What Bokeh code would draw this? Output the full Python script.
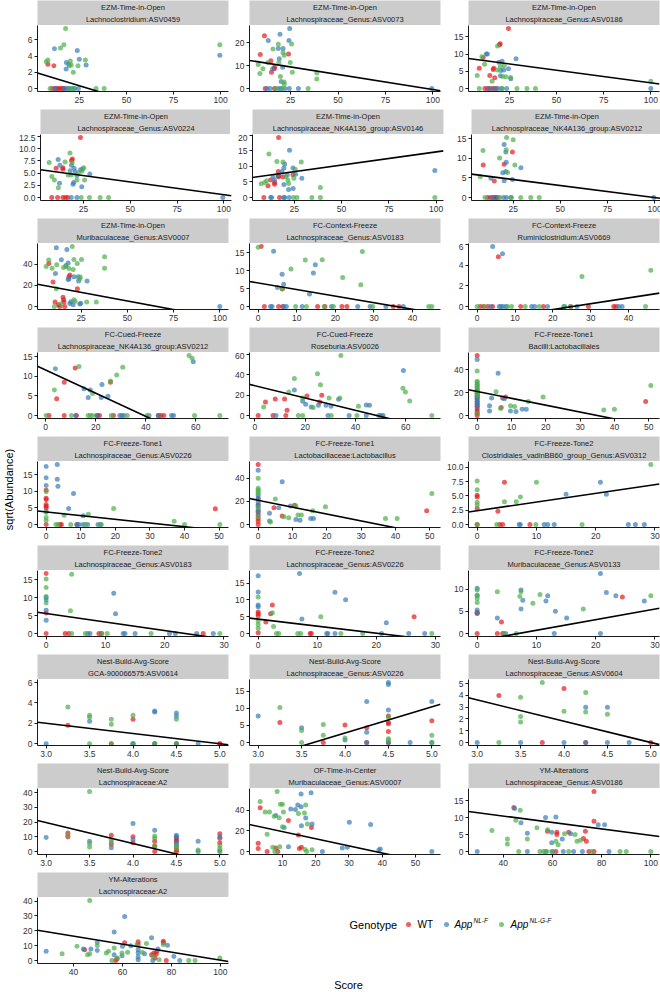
from bokeh.plotting import figure
from bokeh.layouts import row, column
from bokeh.models import Range1d, FixedTicker, NumeralTickFormatter
from bokeh.core.properties import value
from bokeh.embed import file_html
from bokeh.resources import INLINE
from math import pi

# ---------------- data ----------------
P01_WT_X = [8.3, 11.5, 10.5, 12, 13, 14, 15, 16, 17]
P01_WT_Y = [3.0, 2.8, 0, 0, 0, 0, 0, 0, 0]
P01_NLF_X = [11.8, 23.9, 25, 18.1, 19.4, 18, 28.6, 99.6, 12, 17, 18.5, 19.5, 21, 22.5, 24.5]
P01_NLF_Y = [4.9, 4.7, 3.6, 3.2, 3.0, 2.4, 2.9, 4.1, 0, 0, 0, 0, 0, 0, 0]
P01_NLGF_X = [17.7, 16.8, 15, 7.4, 8.3, 20.2, 20.7, 19.7, 21.8, 24.3, 28.2, 99.6, 9.5, 33.9, 38.2, 20, 22]
P01_NLGF_Y = [7.4, 5.4, 5.0, 3.3, 3.5, 3.4, 2.9, 2.8, 2.0, 2.8, 3.5, 5.4, 0, 0, 0, 0, 0]

P02_WT_X = [11.2, 9, 14.6, 16.5, 14.9, 23.9, 16.4, 11.6, 16.5]
P02_WT_Y = [23, 14.8, 12.1, 9.3, 7.1, 15.1, 8.6, 0, 0]
P02_NLF_X = [24.5, 19.4, 13.2, 24.1, 18.5, 21, 19, 20, 15.5, 20.8, 99.4, 12.5, 14.2, 18.5, 19.9, 22, 24.3, 29.1]
P02_NLF_Y = [26.2, 23.7, 21, 21, 17.5, 17.5, 13, 3.1, 8.6, 9.3, 0, 0, 0, 0, 0, 0, 0, 0]
P02_NLGF_X = [18.5, 25.5, 15.7, 21, 21.6, 18.8, 24.8, 13, 7.9, 10.4, 8.8, 25.9, 19.6, 21.6, 21.6, 38.8, 38.8, 34.2, 20.5, 17]
P02_NLGF_Y = [19.3, 19.4, 17.3, 15.7, 14.5, 11.3, 11.3, 11.3, 10.5, 8.6, 6.5, 7.1, 5.2, 2.8, 1.9, 4.1, 6.8, 0, 0, 0]

P03_WT_X = [24.5, 20.1, 19.7, 11.1, 9, 16.7, 16.4, 14.6, 17.2, 12, 13.5, 15, 16.5, 18]
P03_WT_Y = [17.4, 13, 12.7, 8.9, 5.9, 5.9, 5.5, 3.8, 3.1, 0, 0, 0, 0, 0]
P03_NLF_X = [12.7, 13.3, 28.5, 21.1, 19.4, 22, 24.5, 20.4, 25.7, 20.2, 100, 14, 17, 19, 21, 23.5]
P03_NLF_Y = [10, 10, 8.6, 7.9, 7.6, 5.4, 5.7, 5.2, 2.8, 3.7, 0, 0, 0, 0, 0, 0]
P03_NLGF_X = [18.7, 10.4, 11.8, 22.2, 7.9, 15.8, 20.2, 18.5, 23.1, 25.6, 21.3, 100, 9, 29, 34.3, 38.8, 21]
P03_NLGF_Y = [12.3, 9.2, 7, 6.7, 3.8, 2.1, 6.4, 5.4, 3.4, 3.2, 3.5, 2.1, 0, 0, 0, 0, 0]

P04_WT_X = [23.4, 19.1, 18.6, 10.4, 14, 14, 8.1, 11.2, 14, 15.4, 16.6]
P04_WT_Y = [12.3, 7.9, 7.6, 6, 6.1, 5.8, 0, 0, 0, 0, 0]
P04_NLF_X = [11.5, 12.4, 20, 18.6, 20.6, 17.9, 23.4, 24.6, 28.4, 21.5, 19.8, 19.4, 24.1, 12.2, 99.4, 18.5, 21.5]
P04_NLF_Y = [7.8, 6.6, 6, 6.6, 5.3, 5.5, 5.7, 5.9, 4.8, 4.5, 3.1, 2.7, 2.2, 2.9, 0, 0, 0]
P04_NLGF_X = [17.8, 6.7, 15.2, 19, 25.2, 24.1, 16.8, 18.5, 8.1, 9.5, 11.6, 21.5, 25.6, 22.2, 23.8, 28.2, 33.9, 38.4]
P04_NLGF_Y = [9.1, 7.2, 7.3, 7.1, 6.1, 5.4, 4.6, 4.6, 4.3, 3.6, 2, 3.6, 3.6, 5, 0, 0, 0, 0]

P05_WT_X = [16.7, 16.5, 16.7, 16.7, 12.5, 14.6, 14.6, 11.1, 24.3, 19, 8.9, 17.2]
P05_WT_Y = [19.3, 8.4, 6.9, 6.7, 5.6, 4.8, 4.3, 3.8, 7.3, 6.7, 0, 0]
P05_NLF_X = [22.5, 19.9, 19.5, 24.3, 18.5, 16.4, 13.8, 21.3, 29, 25.7, 19.5, 24.4, 22, 14.6, 99.3, 12.5, 13, 19.4, 19.9, 22.3]
P05_NLF_Y = [15.2, 10.8, 9.5, 9.5, 8.4, 7.3, 6.7, 7.3, 6.2, 7.5, 4.2, 2.9, 2.6, 5.6, 8.7, 0, 0, 0, 0, 0]
P05_NLGF_X = [11.6, 15.8, 19, 28.7, 25.5, 20.6, 21.6, 7.5, 9.3, 10.4, 22, 24.8, 38.8, 24.6, 26.4, 34.3, 38.8, 99.3]
P05_NLGF_Y = [14, 11.6, 11.4, 11.4, 9.1, 6.7, 5.6, 4.4, 4.8, 5.4, 4.5, 6.2, 3.2, 0, 0, 0, 0, 0]

P06_WT_X = [9.1, 24.6, 20.2, 15, 11.4, 13, 14.5, 15.5, 16.3]
P06_WT_Y = [8.3, 11.6, 8.5, 4.2, 0, 0, 0, 0, 0]
P06_NLF_X = [20.2, 21.1, 21.3, 19.5, 21.1, 29.1, 20.2, 24.6, 13.2, 99.6, 14, 17, 20, 21.5, 24]
P06_NLF_Y = [13.5, 11.6, 9, 6.3, 6.6, 7.6, 4.3, 4.6, 4.9, 0, 0, 0, 0, 0, 0]
P06_NLGF_X = [21.5, 25, 21.3, 9, 17.8, 25.9, 7.5, 22, 10, 23.8, 29, 34.3, 38.8, 18]
P06_NLGF_Y = [15.3, 14.7, 12.2, 12, 10.1, 8.3, 5.3, 6.4, 0, 0, 0, 0, 0, 0]

P07_WT_X = [7.5, 9.8, 18.9, 18.4, 23, 15.2, 15.5, 15.7, 10.9, 16.1, 13.4, 12.7]
P07_WT_Y = [41, 23.2, 30, 28.4, 16.8, 8.7, 6.5, 4.2, 4.2, 0, 0, 1.6]
P07_NLF_X = [11.6, 17.3, 14.3, 16.8, 18, 11.1, 18.4, 18, 21.1, 23.4, 23.6, 28.2, 19.5, 18.9, 20.7, 24.3, 100, 24.8]
P07_NLF_Y = [55.8, 54.2, 44.5, 39, 41.3, 31.3, 26.5, 25.8, 28.4, 28.4, 24.2, 24.2, 4.5, 2.9, 1.6, 2.3, 0, 3.2]
P07_NLGF_X = [20.2, 6.1, 7.5, 9.3, 11.8, 15.5, 16.8, 21.1, 22.9, 25.2, 37.7, 37.7, 18.4, 20.7, 24.3, 24.5, 11.6, 28, 33.2, 21.1, 21.8, 10.5, 13.9]
P07_NLGF_Y = [57.1, 38, 44.2, 36.5, 39.7, 37.1, 38.1, 44.8, 41, 44.8, 47.4, 36.5, 36.1, 35.2, 26.5, 28.1, 16.8, 4.2, 4.2, 6.5, 4.8, 0, 2.3]

P08_WT_X = [0.8, 6.3, 1.6, 5.3, 6.4, 15.4, 17.3, 21.7, 23, 35, 36.5]
P08_WT_Y = [16.8, 5, 0, 0, 0, 0, 0, 0, 0, 0, 0]
P08_NLF_X = [4, 14.8, 14.3, 6.2, 6.6, 5, 13.3, 3.2, 3.6, 6.6, 7.3, 11.4, 19, 25.8, 29, 33.1, 37.6]
P08_NLF_Y = [15.5, 11.7, 9.4, 9, 6.2, 5.3, 3.5, 0, 0, 0, 0, 0, 0, 0, 0, 0, 0]
P08_NLGF_X = [0, 8.5, 12.2, 16.6, 27, 21.9, 26.6, 6.2, 9.7, 12.5, 17.1, 19.5, 29.7, 44.2, 45]
P08_NLGF_Y = [16.6, 10.5, 13, 13.1, 15.4, 8.1, 6.1, 4.9, 0, 0, 0, 0, 0, 0, 0]

P09_WT_X = [5.6, 0.8, 1.7, 2.8, 4.1, 11.5, 17.5, 24.7, 29.4, 36.1, 36.7]
P09_WT_Y = [4.8, 0, 0, 0, 0, 0, 0, 0, 0, 0, 0]
P09_NLF_X = [4.1, 6.7, 3.6, 5.8, 6.3, 6.8, 7.6, 14.4, 15.2, 18.6, 23.1, 26.4, 37.4, 38.3]
P09_NLF_Y = [5.8, 5.1, 0, 0, 0, 0, 0, 0, 0, 0, 0, 0, 0, 0]
P09_NLGF_X = [27.7, 45.9, 0, 1.9, 8, 9.1, 12.7, 16.4, 22.9, 24.7, 44.5]
P09_NLGF_Y = [2.9, 3.5, 0, 0, 0, 0, 0, 0, 0, 0, 0]

P10_WT_X = [7.4, 11.8, 4.4, 25.9, 1.3, 7.4, 12.3, 20.7, 21.5, 27.1, 45, 46, 47.2]
P10_WT_Y = [8.5, 12.1, 4.3, 8.5, 0, 0, 0, 0, 0, 0, 0, 0, 0]
P10_NLF_X = [59, 3.9, 15.3, 17.8, 17, 22.2, 22.5, 24.9, 12, 20.3, 29.6, 30.4, 31.3, 41.3, 45, 50.3, 51.1]
P10_NLF_Y = [13.7, 11.9, 6.8, 6.5, 4.6, 4.6, 7.9, 4.9, 0, 0, 0, 0, 0, 0, 0, 0, 0]
P10_NLGF_X = [57.3, 58.5, 13.3, 3.5, 18.7, 25.9, 28.4, 30.8, 0.2, 10.3, 17, 17.8, 18.7, 26.2, 32.6, 40.5, 59.5, 69.6]
P10_NLGF_Y = [15.3, 14.6, 12.5, 6.5, 5.6, 8.8, 10.3, 12.3, 0, 0, 0, 0, 0, 0, 0, 0, 0, 0]

P11_WT_X = [1.3, 4.2, 12.8, 11.8, 20.7, 26.6, 25.8, 8.1, 12.3, 7.2]
P11_WT_Y = [0, 13.2, 5.2, 16.4, 19.2, 20, 13.2, 16.4, 0, 0]
P11_NLF_X = [15.7, 20.2, 22.4, 25.3, 28.3, 30.3, 33.3, 44.3, 45.6, 59.1, 19, 8.4, 29.1, 37.5, 44.3, 49.3, 50.2, 51]
P11_NLF_Y = [25.2, 11.2, 8.4, 10, 10, 9.2, 16, 10.4, 10, 44.4, 14, 0, 0, 0, 0, 0, 0, 0]
P11_NLGF_X = [34.2, 24.9, 26.1, 15.7, 13.5, 3.5, 19, 23.2, 29.5, 33.8, 41.2, 58.9, 59.9, 61.6, 70.4, 17.3, 19, 30.4, 40.6]
P11_NLGF_Y = [59.2, 41.2, 30.4, 36.4, 23.2, 8.4, 17.2, 8, 17.2, 17.2, 9.2, 26.8, 23.2, 14.4, 0, 0, 0, 0, 0]

P12_WT_X = [0, 0, 0, 0, 0, 0, 0, 0, 0, 0, 0, 0, 7.4, 8.3, 7, 49.1]
P12_WT_Y = [52.5, 22, 19, 17, 15, 12, 10, 8, 6, 4, 2, 0, 15.3, 16.2, 7, 12.2]
P12_NLF_X = [0, 0, 0, 0, 0, 0, 0, 0, 0, 0, 6.1, 4.2, 3.6, 3.6, 7.9, 9.7, 11.3, 13.1, 14.3]
P12_NLF_Y = [49, 27, 24, 20, 18, 16, 14, 12, 10, 8, 37, 15.3, 8.5, 4, 14.7, 4, 3.4, 5.5, 5.5]
P12_NLGF_X = [0, 0, 0, 0, 0, 0, 0, 0, 0, 5.5, 6.8, 9.7, 10.9, 14.9, 19.2, 36.9, 40, 50.6]
P12_NLGF_Y = [39, 30, 29, 27, 25, 22, 20, 17, 2, 20.8, 6.1, 8.5, 7.9, 12.2, 16.2, 4.9, 5.5, 26.3]

P13_WT_X = [0, 0, 0, 0, 0, 0, 0, 4, 4.4, 8.9, 48.9]
P13_WT_Y = [10.3, 7.9, 7.4, 6, 5.5, 5, 0, 0, 0, 0, 4.7]
P13_NLF_X = [0, 3.2, 0, 3.2, 0, 3.4, 7.9, 6.5, 10.7, 0, 8.9, 9.5, 10.7, 12, 15, 15.9]
P13_NLF_Y = [17.4, 18, 14, 13.6, 11.7, 11.5, 9.3, 4.8, 2.6, 4, 0, 0, 0, 0, 0, 0]
P13_NLGF_X = [0, 0, 0, 0, 5.2, 12.2, 19.5, 37, 40, 50.2, 2.8, 3.4, 7.1, 11.3, 15.6]
P13_NLGF_Y = [9.8, 3.6, 2.1, 1.2, 2.8, 3.1, 4.8, 1, 0, 0, 0, 0, 0, 0, 0]

P14_WT_X = [0, 0, 0, 0, 0, 0, 0, 0, 4.6, 10.6, 7, 49.1]
P14_WT_Y = [52, 22.2, 16.9, 11.4, 8.3, 5.2, 2.8, 0, 14.5, 16.6, 7.4, 12]
P14_NLF_X = [0, 0, 0, 0, 0, 0, 0, 7, 6, 9.4, 3.3, 3.3, 11, 12.2, 15.3, 16.1]
P14_NLF_Y = [47, 25.2, 22.8, 19.1, 16, 12.9, 10.5, 37, 14.5, 16, 9.8, 3.1, 4.3, 3.7, 5.2, 5.2]
P14_NLGF_X = [0, 0, 0, 0, 0, 0, 0, 5, 11, 7.5, 3.6, 8.9, 11.6, 12.6, 15.9, 19.6, 37.1, 40.5, 50.6]
P14_NLGF_Y = [40, 31.4, 29.8, 28.3, 26.8, 14.5, 6.8, 22.2, 16, 6.8, 2.2, 5.8, 8.3, 8.3, 12, 15.4, 5.2, 5.2, 26.8]

P15_WT_X = [4.6, 0, 0, 0, 3.5, 0, 3.8, 4.3, 8.9]
P15_WT_Y = [7.4, 5.1, 4.8, 2.8, 2.3, 0, 0, 0, 0]
P15_NLF_X = [20.8, 15, 21.8, 7.1, 7.3, 11.3, 11.9, 13, 25.5, 26.7, 28.2]
P15_NLF_Y = [7.4, 5.3, 5.3, 0, 0, 0, 0, 0, 0, 0, 0]
P15_NLGF_X = [29.3, 0, 10, 0, 0, 0, 4.6, 6.6, 7.3, 0, 3.3, 9.9, 17.7]
P15_NLGF_Y = [10.5, 7.6, 7.4, 6.1, 3.9, 3.4, 4, 4, 4.8, 0, 0, 0, 0]

P16_WT_X = [0, 0, 0, 3.2, 3.8, 8.9, 9.3, 26.5]
P16_WT_Y = [16.7, 5.7, 0, 0, 0, 0, 0, 0]
P16_NLF_X = [11.4, 0, 0, 0, 0, 11.7, 7, 7.4, 13, 13.3, 15, 20.8, 21.8, 25.4, 28.2]
P16_NLF_Y = [11.2, 10, 9.3, 6.5, 3.7, 5.5, 0, 0, 0, 0, 0, 0, 0, 0, 0]
P16_NLGF_X = [0, 0, 4.3, 0, 4.1, 0, 4.3, 6.6, 9.4, 10.3, 17.7, 29.3]
P16_NLGF_Y = [15.2, 12.8, 16.5, 8.5, 6.3, 10.3, 0, 0, 0, 0, 0, 0]

P17_WT_X = [0, 0, 0, 0, 2.4, 2.1, 1.3, 26.4, 8.8, 9]
P17_WT_Y = [6.4, 5.9, 5.3, 0.2, 8.5, 5.9, 3.4, 5, 0, 0]
P17_NLF_X = [0, 7, 0, 13, 0, 0, 7.4, 14.8, 21.7, 11.6, 11.8, 13, 20.9, 25.5, 28.2]
P17_NLF_Y = [17.2, 17.9, 12.4, 12.3, 8.5, 8, 4.3, 10.1, 3.2, 0, 0, 0, 0, 0, 0]
P17_NLGF_X = [0, 0, 0, 0, 2.4, 2.6, 10.6, 3.1, 3.5, 6.7, 7.2, 14, 17.7, 29.4]
P17_NLGF_Y = [10.9, 3.7, 2.7, 1.6, 6.2, 2.1, 5, 0, 0, 0, 0, 0, 0, 0]

P18_WT_X = [0, 24.5, 4.1, 0, 3.4, 4.3, 0]
P18_WT_Y = [4.8, 8.2, 2.6, 4.5, 0, 0, 0]
P18_NLF_X = [20.8, 0, 7.4, 11.9, 21.8, 0, 0, 0, 7.7, 7.4, 11.6, 13.2, 15.1, 23.4, 28.2, 3.4, 13, 20.8, 4.8]
P18_NLF_Y = [13.5, 10.2, 9.8, 8.5, 9.2, 8.6, 5.3, 4.6, 7.5, 5.5, 7.3, 5, 3.5, 8.5, 7.3, 3.5, 0, 0, 0]
P18_NLGF_X = [0, 3.4, 7.4, 29.3, 0, 0, 0, 7.2, 9.4, 10.6, 17.9, 4.5, 6.6]
P18_NLGF_Y = [9.8, 9.4, 9.4, 8.5, 8.5, 7.9, 7, 8.3, 6.8, 8.8, 5.5, 0, 0]

P19_WT_X = [3.25, 4, 3.75, 4.25, 4.5, 5, 5]
P19_WT_Y = [1.8, 2.4, 0, 0, 0, 0, 0]
P19_NLF_X = [3.5, 4.25, 4.5, 4.5, 3, 4, 4, 4.25, 4.5, 4.75, 4.25]
P19_NLF_Y = [2.2, 3.1, 3.0, 2.7, 0, 0, 0, 0, 0, 0, 3.2]
P19_NLGF_X = [3.25, 3.5, 3.5, 3.75, 3.75, 4, 4.5, 3.5, 3.75, 4, 4.25, 4.5]
P19_NLGF_Y = [3.6, 2.8, 2.6, 2.4, 1.9, 2.8, 2.4, 0, 0, 0, 0, 0]

P20_WT_X = [3.25, 4, 4.25, 4.5, 4.5, 4.5, 5, 3.75, 4.5, 4.25, 4.5]
P20_WT_Y = [5.9, 5.1, 4.3, 5.9, 5.5, 3.2, 6.4, 0, 0, 0, 7.8]
P20_NLF_X = [3, 4.25, 4.5, 4.5, 5, 4.5, 3.5, 4, 4.25, 4.25, 4.75, 5, 4.5]
P20_NLF_Y = [7.8, 12, 17.6, 17, 12, 9.5, 4.3, 0.7, 3, 0, 0, 0, 0]
P20_NLGF_X = [3.25, 3.5, 3.75, 3.75, 4, 4.5, 4.5, 4.5, 5, 3.5, 5]
P20_NLGF_Y = [10.3, 3.5, 5.3, 2.1, 1.3, 7.4, 1.1, 0.7, 2.1, 0, 0]

P21_WT_X = [4, 3.25, 3.75, 5, 4.25]
P21_WT_Y = [4.6, 4.0, 0, 0, 0]
P21_NLF_X = [4.25, 4.5, 3, 3.5, 4, 4.75, 4.25, 4.5]
P21_NLF_Y = [3, 3, 0, 0, 0, 0, 0, 0]
P21_NLGF_X = [3.75, 3.5, 4.25, 4, 4.25, 4.5, 3.5, 3.5, 3.25]
P21_NLGF_Y = [5.1, 3.85, 4.25, 2.65, 2.6, 2.4, 2.2, 1.75, 0]

P22_WT_X = [3.25, 3.25, 3.75, 3.75, 4, 4, 4.25, 4.25, 4.25, 4.5, 4.5, 4.5, 4.5, 4.5, 4.5, 5, 5, 5]
P22_WT_Y = [12.5, 10, 11, 5, 10, 6, 7, 3.5, 0, 9.5, 8, 7, 3, 1, 0, 12, 9, 6]
P22_NLF_X = [3, 3.5, 3.75, 4, 4, 4.25, 4.5, 4.5, 4.5, 4.5, 4.75, 4.75, 5, 5]
P22_NLF_Y = [9.5, 7, 2.5, 19, 8, 14.5, 11, 10, 6, 5, 7, 0, 10, 0]
P22_NLGF_X = [3.25, 3.5, 3.5, 3.5, 3.75, 3.75, 4.25, 4.25, 4.25, 4.5, 4.5, 4.75, 5, 5, 5]
P22_NLGF_Y = [11, 40.8, 5.5, 3, 8, 6.5, 10.5, 9, 4, 4, 2, 1, 4, 2, 0.5]

P23_WT_X = [3.3, 11.8, 18.7, 14.8, 2.7, 2.7, 5.4, 8, 8.6, 15.1, 15.7]
P23_WT_Y = [42.3, 30, 23.3, 16, 7.9, 3, 0, 3.3, 0, 3, 4]
P23_NLF_X = [15.6, 18.6, 14.6, 15.6, 12.5, 8, 17, 13.9, 15.7, 18.9, 30.1, 36.5, 10.5, 11.8, 22, 28, 29.5, 39, 39.4, 54.9]
P23_NLF_Y = [55.7, 56.7, 45, 43.3, 41, 34.7, 32.3, 40.7, 25, 26.7, 28.3, 26, 23.3, 4.5, 0, 3.3, 4, 1.5, 2.4, 0]
P23_NLGF_X = [8.4, 3.3, 4.8, 6.1, 9.4, 10, 17, 10.3, 7.5, 9, 14.8, 16.6, 17.5, 10, 5.4, 7.1, 9.2, 16.8, 18.9, 17.3, 7.7]
P23_NLGF_Y = [58, 48.3, 38.3, 38.3, 45.7, 45.7, 45, 38.3, 34, 32.7, 36.7, 37.3, 26.7, 24, 16.7, 4, 4.5, 2, 1.8, 0, 0]

P24_WT_X = [76.9, 44.3, 58, 76.9, 66.6, 73.4, 61.8, 61.8, 72.6, 73.8, 61.4, 74.8, 76.9]
P24_WT_Y = [17.7, 13, 6, 8.9, 5.7, 6, 5.7, 5, 3.8, 3, 0, 0, 0]
P24_NLF_X = [44.6, 47.2, 57.2, 61.4, 59.7, 78.6, 81.2, 49.8, 67.4, 59.7, 64, 29.4, 49.8, 57.2, 60, 64.4, 68.6, 72.2, 83]
P24_NLF_Y = [12.7, 8.5, 10, 10.2, 5.7, 7.9, 7.9, 5.4, 5.2, 2.6, 3.7, 0, 0, 0, 0, 0, 0, 0, 0]
P24_NLGF_X = [46.9, 45.1, 53.7, 58, 35.4, 64.9, 69.2, 41.7, 41.7, 49.8, 62.3, 61.4, 70, 71.4, 46.3, 54.9, 56.3, 57.7, 59.7, 66.6, 76, 87.5, 90, 100]
P24_NLGF_Y = [12.2, 9.2, 7, 6.4, 6.2, 5.2, 5, 3.7, 2.2, 3.7, 2, 3, 3, 3.3, 0, 0, 0, 0, 0, 0, 0, 0, 0, 0]

P25_WT_X = [44.5, 57.2, 60.9, 66.4, 66.4, 71.9, 72.8, 73.8, 73.3, 74.1, 76.7, 76.7, 77.9, 57.8]
P25_WT_Y = [7.3, 0, 11.9, 12.6, 10.7, 3.9, 5, 4.3, 1.6, 6.2, 13, 11.9, 0, 1.2]
P25_NLF_X = [28.8, 44, 47.1, 49.7, 49.7, 56.6, 60.9, 56.6, 59.8, 60, 63.4, 66.4, 66.4, 66.4, 66.4, 69, 71.9, 72.4, 74.5, 78.4, 81, 83.4]
P25_NLF_Y = [6.2, 7.8, 7.8, 11.9, 6.8, 19.2, 29.7, 3.9, 3.2, 9.6, 10, 7.3, 5, 2.3, 0.5, 4.6, 15.3, 0, 7.8, 10.3, 2.7, 0]
P25_NLGF_X = [35.3, 41.4, 46.6, 45.7, 46.6, 49.7, 53.4, 54.3, 56.6, 55.7, 57.8, 59.8, 62.1, 65.9, 68.1, 69.8, 72.4, 75, 76.7, 87.1, 89.7, 99.8]
P25_NLGF_Y = [4.6, 9.6, 40.4, 3.9, 4.6, 10, 5, 6.2, 8.4, 0, 1.6, 5, 5.5, 10.7, 5.5, 11.4, 2.7, 0.5, 10.7, 0, 0, 1.6]

STRIP_TOP = (["EZM-Time-in-Open"] * 7 + ["FC-Context-Freeze"] * 2 + ["FC-Cued-Freeze"] * 2
             + ["FC-Freeze-Tone1"] * 3 + ["FC-Freeze-Tone2"] * 4 + ["Nest-Build-Avg-Score"] * 4
             + ["OF-Time-in-Center"] + ["YM-Alterations"] * 2)
STRIP_BOTTOM = ["Lachnoclostridium:ASV0459", "Lachnospiraceae_Genus:ASV0073", "Lachnospiraceae_Genus:ASV0186",
                "Lachnospiraceae_Genus:ASV0224", "Lachnospiraceae_NK4A136_group:ASV0146",
                "Lachnospiraceae_NK4A136_group:ASV0212", "Muribaculaceae_Genus:ASV0007",
                "Lachnospiraceae_Genus:ASV0183", "Ruminiclostridium:ASV0669",
                "Lachnospiraceae_NK4A136_group:ASV0212", "Roseburia:ASV0026", "Bacilli:Lactobacillales",
                "Lachnospiraceae_Genus:ASV0226", "Lactobacillaceae:Lactobacillus",
                "Clostridiales_vadinBB60_group_Genus:ASV0312", "Lachnospiraceae_Genus:ASV0183",
                "Lachnospiraceae_Genus:ASV0226", "Muribaculaceae_Genus:ASV0133", "GCA-900066575:ASV0614",
                "Lachnospiraceae_Genus:ASV0226", "Lachnospiraceae_Genus:ASV0604", "Lachnospiraceae:A2",
                "Muribaculaceae_Genus:ASV0007", "Lachnospiraceae_Genus:ASV0186", "Lachnospiraceae:A2"]

X_TICKS = ([[25, 50, 75, 100]] * 7 + [[0, 10, 20, 30, 40]] * 2 + [[0, 20, 40, 60]] * 2
           + [[0, 10, 20, 30, 40, 50]] * 3 + [[0, 10, 20, 30]] * 4 + [[3.0, 3.5, 4.0, 4.5, 5.0]] * 4
           + [[10, 20, 30, 40, 50]] + [[40, 60, 80, 100]] * 2)
Y_TICKS = [[0, 2, 4, 6], [0, 10, 20], [0, 5, 10, 15], [0, 2.5, 5, 7.5, 10, 12.5], [0, 5, 10, 15, 20],
           [0, 5, 10, 15], [0, 20, 40], [0, 5, 10, 15], [0, 2, 4, 6], [0, 5, 10, 15], [0, 20, 40, 60],
           [0, 20, 40], [0, 5, 10, 15], [0, 20, 40], [0, 2.5, 5, 7.5, 10], [0, 5, 10, 15], [0, 5, 10, 15],
           [0, 5, 10], [0, 2, 4, 6], [0, 5, 10, 15], [0, 1, 2, 3, 4, 5], [0, 10, 20, 30, 40], [0, 20, 40],
           [0, 5, 10, 15], [0, 10, 20, 30, 40]]
# upper y-axis limit read from the picture where it is not set by the points
Y_TOP = [None] * 18 + [6.3] + [None] * 6

# fitted lines: intercept and slope
LINE_INTERCEPT = [2.12, 12.7, 8.96, 5.81, 6.2, 6.13, 21.67, 6.58, -1.42, 11.6, 29.4, 21.0, 3.75,
                  20.95, 2.41, 5.58, 4.29, -1.67, 5.0, -27.9, 9.05, 62.2, 26.1, 14.24, 27.16]
LINE_SLOPE = [-0.071, -0.1316, -0.073, -0.0524, 0.0847, -0.0614, -0.328, -0.184, 0.0563, -0.2955,
              -0.607, -0.6, -0.1105, -0.595, 0.152, -0.238, -0.21, 0.2385, -1.0, 7.67, -1.81, -14.2,
              -0.69, -0.0946, -0.269]

GENOTYPE_COLORS = ["#E41A1C", "#377EB8", "#4DAF4A"]

SERIES = [
    (P01_WT_X, P01_WT_Y, P01_NLF_X, P01_NLF_Y, P01_NLGF_X, P01_NLGF_Y),
    (P02_WT_X, P02_WT_Y, P02_NLF_X, P02_NLF_Y, P02_NLGF_X, P02_NLGF_Y),
    (P03_WT_X, P03_WT_Y, P03_NLF_X, P03_NLF_Y, P03_NLGF_X, P03_NLGF_Y),
    (P04_WT_X, P04_WT_Y, P04_NLF_X, P04_NLF_Y, P04_NLGF_X, P04_NLGF_Y),
    (P05_WT_X, P05_WT_Y, P05_NLF_X, P05_NLF_Y, P05_NLGF_X, P05_NLGF_Y),
    (P06_WT_X, P06_WT_Y, P06_NLF_X, P06_NLF_Y, P06_NLGF_X, P06_NLGF_Y),
    (P07_WT_X, P07_WT_Y, P07_NLF_X, P07_NLF_Y, P07_NLGF_X, P07_NLGF_Y),
    (P08_WT_X, P08_WT_Y, P08_NLF_X, P08_NLF_Y, P08_NLGF_X, P08_NLGF_Y),
    (P09_WT_X, P09_WT_Y, P09_NLF_X, P09_NLF_Y, P09_NLGF_X, P09_NLGF_Y),
    (P10_WT_X, P10_WT_Y, P10_NLF_X, P10_NLF_Y, P10_NLGF_X, P10_NLGF_Y),
    (P11_WT_X, P11_WT_Y, P11_NLF_X, P11_NLF_Y, P11_NLGF_X, P11_NLGF_Y),
    (P12_WT_X, P12_WT_Y, P12_NLF_X, P12_NLF_Y, P12_NLGF_X, P12_NLGF_Y),
    (P13_WT_X, P13_WT_Y, P13_NLF_X, P13_NLF_Y, P13_NLGF_X, P13_NLGF_Y),
    (P14_WT_X, P14_WT_Y, P14_NLF_X, P14_NLF_Y, P14_NLGF_X, P14_NLGF_Y),
    (P15_WT_X, P15_WT_Y, P15_NLF_X, P15_NLF_Y, P15_NLGF_X, P15_NLGF_Y),
    (P16_WT_X, P16_WT_Y, P16_NLF_X, P16_NLF_Y, P16_NLGF_X, P16_NLGF_Y),
    (P17_WT_X, P17_WT_Y, P17_NLF_X, P17_NLF_Y, P17_NLGF_X, P17_NLGF_Y),
    (P18_WT_X, P18_WT_Y, P18_NLF_X, P18_NLF_Y, P18_NLGF_X, P18_NLGF_Y),
    (P19_WT_X, P19_WT_Y, P19_NLF_X, P19_NLF_Y, P19_NLGF_X, P19_NLGF_Y),
    (P20_WT_X, P20_WT_Y, P20_NLF_X, P20_NLF_Y, P20_NLGF_X, P20_NLGF_Y),
    (P21_WT_X, P21_WT_Y, P21_NLF_X, P21_NLF_Y, P21_NLGF_X, P21_NLGF_Y),
    (P22_WT_X, P22_WT_Y, P22_NLF_X, P22_NLF_Y, P22_NLGF_X, P22_NLGF_Y),
    (P23_WT_X, P23_WT_Y, P23_NLF_X, P23_NLF_Y, P23_NLGF_X, P23_NLGF_Y),
    (P24_WT_X, P24_WT_Y, P24_NLF_X, P24_NLF_Y, P24_NLGF_X, P24_NLGF_Y),
    (P25_WT_X, P25_WT_Y, P25_NLF_X, P25_NLF_Y, P25_NLGF_X, P25_NLGF_Y),
]

# ---------------- geometry / style ----------------
FONT = "Liberation Sans"
STRIP_FILL = "#CCCCCC"
YT = 15                  # y-title column width
LB = [22, 19, 26]        # left borders per column (tick labels)
RB = [2, 2, 1]           # right borders per column
FW = 191                 # frame width
SH = 25                  # strip height
FH = 66                  # frame height
BB = [18] * 8 + [15]     # bottom border (x tick labels) per row
XT = 13                  # x-title height


def bare_fig(w, h, xr, yr):
    f = figure(width=w, height=h, x_range=xr, y_range=yr, toolbar_location=None,
               output_backend="svg", x_axis_location=None, y_axis_location=None,
               min_border=0, outline_line_color=None, title=None)
    f.grid.visible = False
    return f


def style_axis(ax, ticks):
    ax.ticker = FixedTicker(ticks=ticks, minor_ticks=[])
    fmt = "0.0" if any(abs(t - round(t)) > 1e-9 for t in ticks) else "0"
    ax.formatter = NumeralTickFormatter(format=fmt)
    ax.axis_line_color = "black"
    ax.axis_line_width = 0.9
    ax.major_tick_line_color = "black"
    ax.major_tick_line_width = 0.9
    ax.major_tick_out = 3
    ax.major_tick_in = 0
    ax.minor_tick_line_color = None
    ax.major_label_text_font = FONT
    ax.major_label_text_font_size = "8.5px"
    ax.major_label_text_color = "#333333"
    ax.major_label_standoff = 2


def make_panel(k, col, bb):
    L, R = LB[col], RB[col]
    xs_wt, ys_wt, xs_f, ys_f, xs_gf, ys_gf = SERIES[k]
    allx = xs_wt + xs_f + xs_gf
    ally = ys_wt + ys_f + ys_gf
    x0, x1 = min(allx), max(allx)
    y0, y1 = min(ally), max(ally)
    dx, dy = 0.05 * (x1 - x0), 0.05 * (y1 - y0)
    ytop = y1 + dy if Y_TOP[k] is None else Y_TOP[k]

    strip = figure(frame_width=FW, frame_height=SH, x_range=Range1d(0, 1), y_range=Range1d(0, 1),
                   min_border_left=L, min_border_right=R, min_border_top=0, min_border_bottom=0,
                   toolbar_location=None, output_backend="svg", x_axis_location=None,
                   y_axis_location=None, title=None, outline_line_color=None,
                   background_fill_color=STRIP_FILL, border_fill_color="white")
    strip.grid.visible = False
    strip.text(x=[0.5, 0.5], y=[0.73, 0.25], text=[STRIP_TOP[k], STRIP_BOTTOM[k]],
               text_align="center", text_baseline="middle", text_font=value(FONT),
               text_font_size="7.5px", text_font_style="normal", text_color="#1A1A1A")

    p = figure(frame_width=FW, frame_height=FH,
               x_range=Range1d(x0 - dx, x1 + dx), y_range=Range1d(y0 - dy, ytop),
               min_border_left=L, min_border_right=R, min_border_top=0, min_border_bottom=bb,
               toolbar_location=None, output_backend="svg", title=None,
               outline_line_color=None, background_fill_color="white", border_fill_color="white")
    p.grid.visible = False
    style_axis(p.xaxis[0], X_TICKS[k])
    style_axis(p.yaxis[0], Y_TICKS[k])

    for (xs, ys), c in zip([(xs_wt, ys_wt), (xs_f, ys_f), (xs_gf, ys_gf)], GENOTYPE_COLORS):
        p.scatter(xs, ys, size=5, fill_color=c, fill_alpha=0.7, line_color=None)

    a, b = LINE_INTERCEPT[k], LINE_SLOPE[k]
    xa, xb = x0 - dx, x1 + dx
    p.line([xa, xb], [a + b * xa, a + b * xb], line_color="black", line_width=1.6)
    return column(strip, p, spacing=0)


# ---------------- legend ----------------
LAST_H = SH + FH + BB[8]
LEG_W = (LB[1] + FW + RB[1]) + (LB[2] + FW + RB[2])
leg = bare_fig(LEG_W, LAST_H, Range1d(0, LEG_W), Range1d(0, LAST_H))
ly = LAST_H - 52
leg.text(x=[119], y=[ly], text=["Genotype"], text_align="left", text_baseline="middle",
         text_font=value(FONT), text_font_size="11px", text_color="black")
leg.scatter([178, 216, 271], [ly, ly, ly], size=5, fill_color=GENOTYPE_COLORS, fill_alpha=0.7,
            line_color=None)
leg.text(x=[187], y=[ly], text=["WT"], text_align="left", text_baseline="middle",
         text_font=value(FONT), text_font_size="10px", text_color="black")
leg.text(x=[224, 280], y=[ly, ly], text=["App", "App"], text_align="left", text_baseline="middle",
         text_font=value(FONT), text_font_size="10px", text_font_style="italic", text_color="black")
leg.text(x=[243, 299], y=[ly + 4, ly + 4], text=["NL-F", "NL-G-F"], text_align="left",
         text_baseline="middle", text_font=value(FONT), text_font_size="6.5px",
         text_font_style="italic", text_color="black")

# ---------------- axis titles ----------------
GRID_W = sum(LB) + sum(RB) + 3 * FW
GRID_H = sum(SH + FH + b for b in BB)
ytitle = bare_fig(YT, GRID_H, Range1d(0, 1), Range1d(0, 1))
ytitle.text(x=[0.55], y=[0.5], text=["sqrt(Abundance)"], angle=pi / 2, text_align="center",
            text_baseline="middle", text_font=value(FONT), text_font_size="11px", text_color="black")

xtitle = bare_fig(GRID_W, XT, Range1d(0, GRID_W), Range1d(0, 1))
xtitle.text(x=[(LB[0] + GRID_W - RB[2]) / 2], y=[0.5], text=["Score"], text_align="center",
            text_baseline="middle", text_font=value(FONT), text_font_size="11px", text_color="black")

rows = []
for r in range(9):
    items = []
    for c in range(3):
        k = 3 * r + c
        if k < len(SERIES):
            items.append(make_panel(k, c, BB[r]))
    if r == 8:
        items.append(leg)
    rows.append(row(*items, spacing=0))

page = row(ytitle, column(*rows, xtitle, spacing=0), spacing=0)

with open("out.html", "w") as f:
    f.write(file_html(page, INLINE, title="plot"))
